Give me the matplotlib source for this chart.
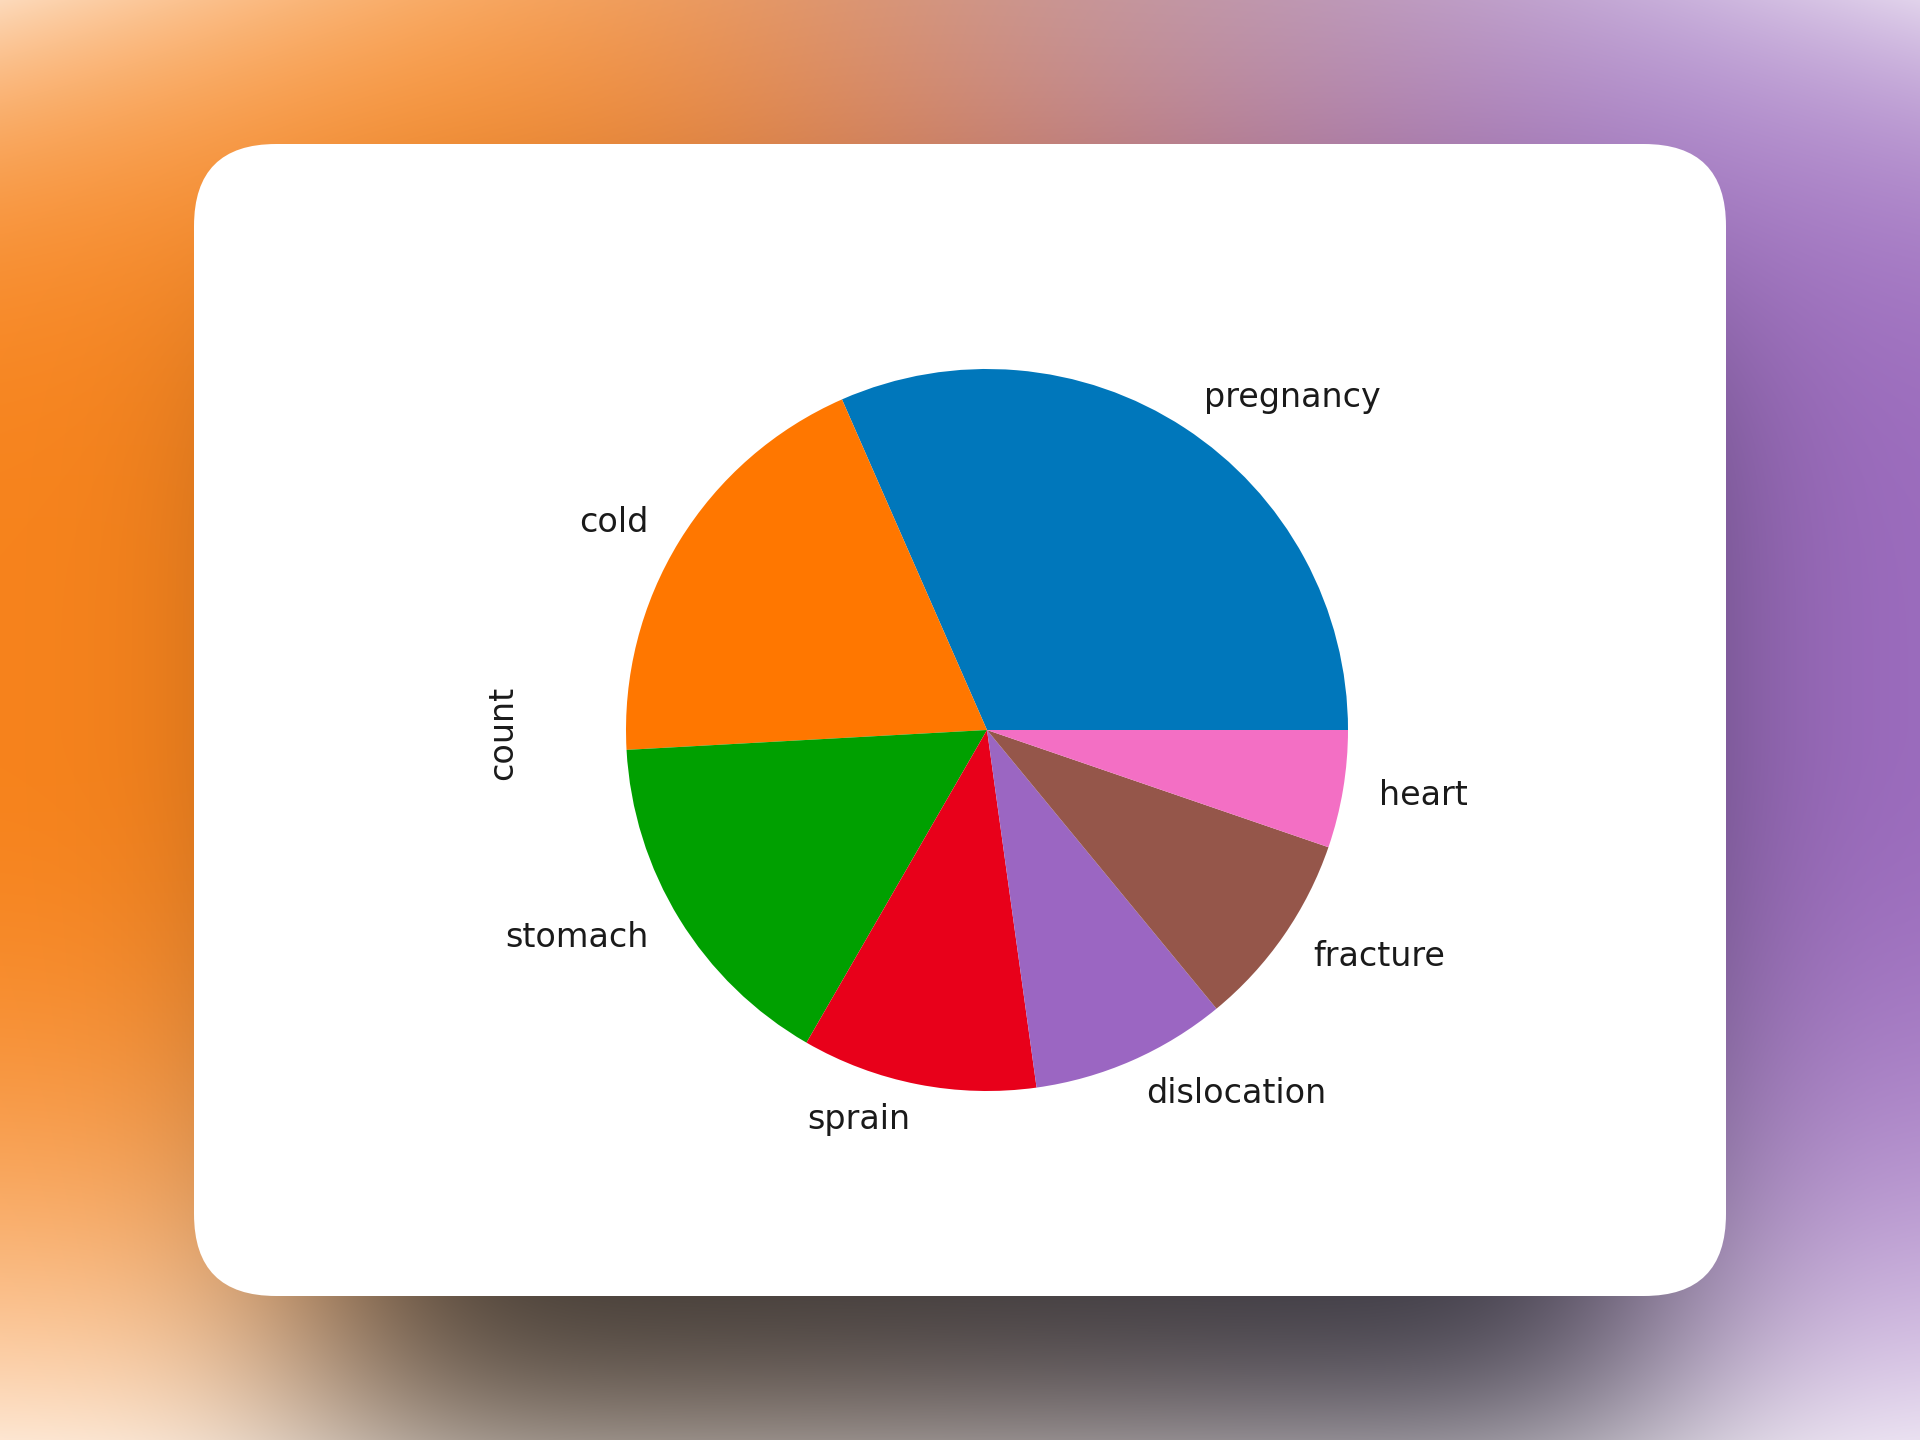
import math
import numpy as np
import matplotlib.pyplot as plt
from matplotlib.patches import FancyBboxPatch

# data
categories = ['pregnancy', 'cold', 'stomach', 'sprain', 'dislocation', 'fracture', 'heart']
counts = [18, 11, 9, 6, 5, 5, 3]
colors = ['#0077bb', '#ff7700', '#00a000', '#e8001a', '#9b66c2', '#95564a', '#f36fc4']

W, H = 1920, 1440


def hex_rgb(h):
    h = h.lstrip('#')
    return np.array([int(h[i:i + 2], 16) for i in (0, 2, 4)]) / 255.0


def blurred_step(v, lo, hi, sigma):
    erf = np.vectorize(math.erf)
    s = sigma * math.sqrt(2)
    return 0.5 * (erf((v - lo) / s) - erf((v - hi) / s))


def make_background():
    x = np.arange(W)[None, :] / W
    y = np.arange(H)[:, None] / H
    t = np.clip((x - 0.2) / 0.7, 0, 1)
    t = t * t * (3 - 2 * t)
    orange = hex_rgb('#f7831c')
    purple = hex_rgb('#9c6cbe')
    base = orange[None, None, :] * (1 - t[..., None]) + purple[None, None, :] * t[..., None]
    base = np.broadcast_to(base, (H, W, 3)).copy()
    # lighter toward the corners, mostly the bottom ones
    s = (y - 0.5) / 0.5
    edge = np.abs(x - 0.5) / 0.5
    f_top = np.where(s < 0, s ** 4 * (0.15 + 0.55 * edge ** 2), 0)
    f_bot = np.where(s > 0, 0.8 * np.abs(s) ** 2.2, 0)
    f = np.clip(f_top + f_bot, 0, 0.9)
    base = base * (1 - f[..., None]) + f[..., None]
    # faint grey haze in the upper middle
    haze = np.exp(-((x - 0.6) / 0.2) ** 2) * np.exp(-(y / 0.12) ** 2) * 0.25
    base = base * (1 - haze[..., None]) + hex_rgb('#b0b0c0')[None, None, :] * haze[..., None]
    # drop shadow under the card
    xs = blurred_step(np.arange(W, dtype=float), 330, 1650, 120)
    ys = blurred_step(np.arange(H, dtype=float), 320, 1450, 110)
    a = 0.85 * ys[:, None] * xs[None, :]
    shade = hex_rgb('#1e2226')
    img = base * (1 - a[..., None]) + shade[None, None, :] * a[..., None]
    return np.clip(img, 0, 1)


fig = plt.figure(figsize=(19.2, 14.4), dpi=100)

bg = fig.add_axes([0, 0, 1, 1])
bg.imshow(make_background(), extent=(0, W, H, 0), aspect='auto', interpolation='bilinear')
bg.set_xlim(0, W)
bg.set_ylim(H, 0)
bg.axis('off')

card = FancyBboxPatch((194, 144), 1532, 1152,
                      boxstyle='round,pad=0,rounding_size=82',
                      facecolor='white', edgecolor='none')
bg.add_patch(card)

# pie centred at (987, 730) px with radius ~361 px
cx, cy, r = 987, 730, 361
half = 1.25 * r
ax = fig.add_axes([(cx - half) / W, (H - cy - half) / H, 2 * half / W, 2 * half / H])
ax.pie(counts, labels=categories, colors=colors,
       textprops={'fontsize': 24, 'color': '#1a1a1a'})
ax.set_xlim(-1.25, 1.25)
ax.set_ylim(-1.25, 1.25)
ax.set_aspect('equal')
ax.axis('off')

fig.text(503 / W, 1 - 733 / H, 'count', rotation=90, fontsize=24,
         color='#1a1a1a', ha='center', va='center')

fig.savefig('out.png', dpi=100)
